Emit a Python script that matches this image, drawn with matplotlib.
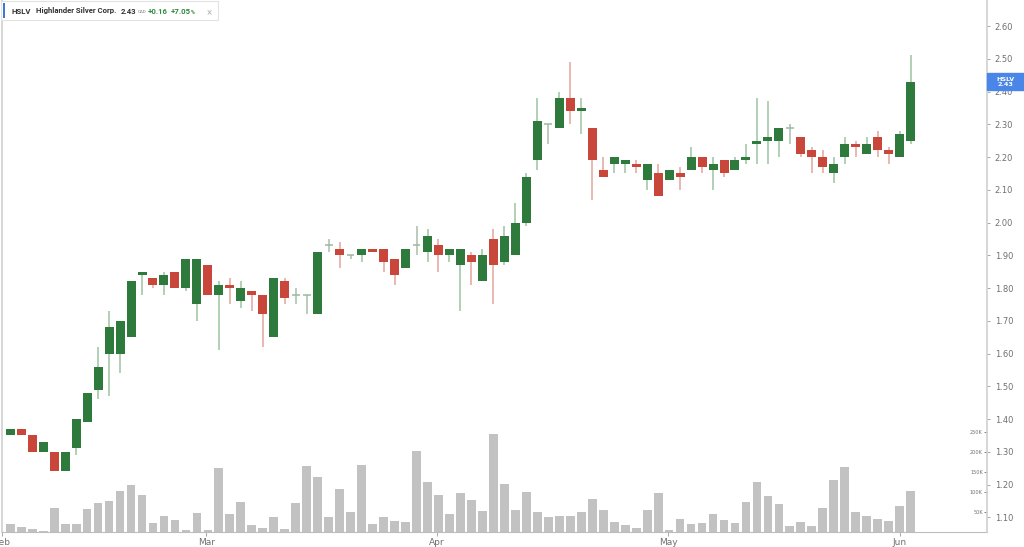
import matplotlib
matplotlib.use("Agg")
import matplotlib.pyplot as plt
import matplotlib.transforms as mtransforms
from matplotlib.patches import Rectangle
import numpy as np

# daily OHLC (CAD)
opens = [1.35, 1.37, 1.35, 1.30, 1.30, 1.24, 1.31, 1.39, 1.49, 1.60,
         1.60, 1.65, 1.84, 1.83, 1.81, 1.85, 1.80, 1.75, 1.87, 1.78,
         1.81, 1.76, 1.79, 1.78, 1.65, 1.82, 1.78, 1.78, 1.72, 1.93,
         1.92, 1.90, 1.90, 1.92, 1.92, 1.89, 1.86, 1.93, 1.91, 1.93,
         1.90, 1.87, 1.90, 1.82, 1.95, 1.88, 1.90, 2.00, 2.19, 2.30,
         2.29, 2.38, 2.34, 2.29, 2.16, 2.18, 2.18, 2.18, 2.13, 2.15,
         2.13, 2.15, 2.16, 2.20, 2.16, 2.19, 2.16, 2.19, 2.24, 2.25,
         2.25, 2.29, 2.26, 2.22, 2.20, 2.15, 2.20, 2.24, 2.21, 2.26,
         2.22, 2.20, 2.25]
closes = [1.37, 1.35, 1.30, 1.33, 1.24, 1.30, 1.40, 1.48, 1.56, 1.68,
          1.70, 1.82, 1.85, 1.81, 1.84, 1.80, 1.89, 1.89, 1.78, 1.81,
          1.80, 1.80, 1.78, 1.72, 1.83, 1.77, 1.78, 1.78, 1.91, 1.93,
          1.90, 1.90, 1.92, 1.91, 1.88, 1.84, 1.92, 1.93, 1.96, 1.90,
          1.92, 1.92, 1.88, 1.90, 1.87, 1.96, 2.00, 2.14, 2.31, 2.30,
          2.38, 2.34, 2.35, 2.19, 2.14, 2.20, 2.19, 2.17, 2.18, 2.08,
          2.16, 2.14, 2.20, 2.17, 2.18, 2.15, 2.19, 2.20, 2.25, 2.26,
          2.29, 2.29, 2.21, 2.20, 2.17, 2.18, 2.24, 2.23, 2.24, 2.22,
          2.21, 2.27, 2.43]
highs = [1.37, 1.37, 1.35, 1.33, 1.30, 1.30, 1.40, 1.48, 1.62, 1.73,
         1.70, 1.82, 1.85, 1.83, 1.85, 1.85, 1.89, 1.89, 1.87, 1.82,
         1.83, 1.82, 1.79, 1.78, 1.83, 1.83, 1.80, 1.78, 1.91, 1.95,
         1.94, 1.90, 1.92, 1.92, 1.92, 1.89, 1.92, 1.99, 1.98, 1.95,
         1.92, 1.92, 1.91, 1.92, 1.98, 1.99, 2.06, 2.15, 2.38, 2.30,
         2.40, 2.49, 2.38, 2.29, 2.20, 2.20, 2.19, 2.19, 2.18, 2.18,
         2.16, 2.17, 2.23, 2.20, 2.20, 2.19, 2.20, 2.24, 2.38, 2.37,
         2.29, 2.30, 2.26, 2.23, 2.22, 2.20, 2.26, 2.25, 2.26, 2.28,
         2.23, 2.28, 2.51]
lows = [1.35, 1.35, 1.30, 1.30, 1.24, 1.24, 1.29, 1.39, 1.46, 1.47,
        1.54, 1.65, 1.78, 1.80, 1.78, 1.80, 1.79, 1.70, 1.78, 1.61,
        1.75, 1.74, 1.73, 1.62, 1.65, 1.75, 1.75, 1.72, 1.72, 1.91,
        1.86, 1.89, 1.88, 1.91, 1.85, 1.81, 1.86, 1.90, 1.88, 1.85,
        1.88, 1.73, 1.81, 1.82, 1.75, 1.87, 1.90, 1.99, 2.16, 2.24,
        2.29, 2.30, 2.27, 2.07, 2.14, 2.15, 2.15, 2.15, 2.10, 2.08,
        2.13, 2.10, 2.16, 2.15, 2.10, 2.14, 2.16, 2.18, 2.18, 2.18,
        2.20, 2.24, 2.20, 2.15, 2.15, 2.12, 2.18, 2.20, 2.21, 2.20,
        2.18, 2.20, 2.24]
# volume in thousands of shares
volumes_k = [19, 12.5, 8, 3, 61, 21, 20, 57, 72, 77,
             103, 117, 92, 23, 39, 29, 5, 48, 6, 159,
             46, 76, 17, 11, 37, 8, 73, 166, 137, 37,
             107, 51, 168, 21, 37, 27, 24, 202, 124, 93,
             45, 97, 79, 53, 245, 121, 56, 99, 51, 37,
             41, 41, 50, 82, 54, 25, 17, 10, 55, 97,
             5, 33, 21, 23, 45, 31, 22, 74, 125, 91,
             71, 16, 25, 14, 60, 131, 162, 50, 39, 32,
             28, 64, 103]

month_labels = ["Feb", "Mar", "Apr", "May", "Jun"]
month_ticks = [-0.75, 17.85, 38.85, 59.9, 81.0]
price_ticks = [1.10, 1.20, 1.30, 1.40, 1.50, 1.60, 1.70, 1.80, 1.90,
               2.00, 2.10, 2.20, 2.30, 2.40, 2.50, 2.60]
vol_ticks_k = [50, 100, 150, 200, 250]

ticker = "HSLV"
name = "Highlander Silver Corp."
last_price = "2.43"
currency = "CAD"
change = "+0.16"
change_pct = "+7.05"

GREEN = "#2e7a3c"
RED = "#c8473a"
GREEN_WICK = "#9cc4a2"
RED_WICK = "#e3a49c"
VOL_GREY = "#c2c2c2"
AXIS_GREY = "#cfcfcf"
TEXT_GREY = "#707070"

o = np.array(opens)
c = np.array(closes)
h = np.array(highs)
l = np.array(lows)
v = np.array(volumes_k) * 1000
x = np.arange(len(o))

W, H = 1024, 547
fig = plt.figure(figsize=(W / 100, H / 100), dpi=100)
rect = [2 / W, 15 / H, 985 / W, 532 / H]

# volume underneath
ax_vol = fig.add_axes(rect)
ax_vol.bar(x, v, width=0.8, color=VOL_GREY, zorder=1)
ax_vol.set_ylim(0, 1330000)
ax_vol.set_xlim(-0.27, 88.95)
ax_vol.yaxis.tick_right()
ax_vol.set_yticks([t * 1000 for t in vol_ticks_k])
ax_vol.set_yticklabels([f"{t}K" for t in vol_ticks_k])
ax_vol.tick_params(axis="y", direction="in", length=2, pad=-3,
                   labelsize=3.6, colors=TEXT_GREY, width=0.6)
for lbl in ax_vol.get_yticklabels():
    lbl.set_horizontalalignment("right")
ax_vol.set_xticks(month_ticks)
ax_vol.set_xticklabels(month_labels)
ax_vol.tick_params(axis="x", direction="out", length=3, width=0.6,
                   color="#999999", labelsize=6.5, labelcolor=TEXT_GREY, pad=1)
for side in ["top", "right"]:
    ax_vol.spines[side].set_visible(False)
ax_vol.spines["left"].set_color(AXIS_GREY)
ax_vol.spines["bottom"].set_color("#bdbdbd")
ax_vol.spines["left"].set_linewidth(1.2)

# candles on top
ax = fig.add_axes(rect, sharex=ax_vol)
ax.patch.set_alpha(0)
up = c >= o
body_col = np.where(up, GREEN, RED)
wick_col = np.where(up, GREEN_WICK, RED_WICK)
doji = np.isclose(o, c)
wick_col = np.where(doji, "#a9bfa9", wick_col)

ax.vlines(x, l, h, colors=wick_col, linewidth=1.1, zorder=2)
ax.bar(x[~doji], np.abs(c - o)[~doji], bottom=np.minimum(o, c)[~doji],
       width=0.82, color=body_col[~doji], zorder=3)
ax.hlines(c[doji], x[doji] - 0.35, x[doji] + 0.35, colors="#9ab89e",
          linewidth=1.1, zorder=3)

ax.set_ylim(1.055, 2.6794)
ax.yaxis.tick_right()
ax.set_yticks(price_ticks)
ax.set_yticklabels([f"{t:.2f}" for t in price_ticks])
ax.tick_params(axis="y", direction="out", length=2.5, width=0.6,
               color="#999999", labelsize=6, labelcolor=TEXT_GREY, pad=3)
ax.tick_params(axis="x", bottom=False, labelbottom=False)
for side in ["top", "left", "bottom"]:
    ax.spines[side].set_visible(False)
ax.spines["right"].set_color(AXIS_GREY)
ax.spines["right"].set_linewidth(1.2)

# last-price tag on the price axis
blend = mtransforms.blended_transform_factory(ax.transAxes, ax.transData)
tag_h = 0.0507
ax.add_patch(Rectangle((1.0, c[-1] - tag_h / 2), 37 / 985, tag_h,
                       transform=blend, color="#4a86e8", clip_on=False, zorder=5))
ax.text(1.0 + 18.5 / 985, c[-1], f"{ticker}\n{last_price}", transform=blend,
        ha="center", va="center", fontsize=4.6, fontweight="bold",
        color="white", linespacing=0.95, zorder=6)

# header box: texts chained left to right
hdr_font = ["Roboto", "DejaVu Sans"]
box = Rectangle((1 / W, 1 - 20 / H), 211 / W, 19 / H, transform=fig.transFigure,
                fc="white", ec="#e2e2e2", lw=0.8, zorder=10)
fig.add_artist(box)
fig.add_artist(Rectangle((3 / W, 1 - 18 / H), 2 / W, 15 / H,
                         transform=fig.transFigure, fc="#3b78d8",
                         ec="none", zorder=11))
t0 = fig.text(11 / W, 1 - 11 / H, ticker, fontsize=5.6, fontweight="bold",
              color="#333333", va="center", family=hdr_font, zorder=12)


def chain(prev, txt, gap, size=5.6, color="#333333", weight="bold", dy=0):
    return fig.add_artist(matplotlib.text.Annotation(
        txt, xy=(1, 0.5), xycoords=prev, xytext=(gap, dy),
        textcoords="offset pixels", va="center", ha="left", fontsize=size,
        fontweight=weight, color=color, family=hdr_font, zorder=12))


t1 = chain(t0, name, 5)
t2 = chain(t1, last_price, 5)
t3 = chain(t2, currency, 1, size=3.2, color="#777777", weight="normal", dy=-1)
t4 = chain(t3, change, 2, color="#2e8b3c")
t5 = chain(t4, change_pct, 3, color="#2e8b3c")
t6 = chain(t5, "%", 0, size=3.8, color="#2e8b3c", dy=-1)
t7 = chain(t6, "\u00d7", 12, size=7, color="#b5b5b5", weight="normal")

fig.canvas.draw()
ext = t7.get_window_extent()
box.set_width((ext.x1 + 6) / W - 1 / W)

fig.savefig("out.png", dpi=100)
